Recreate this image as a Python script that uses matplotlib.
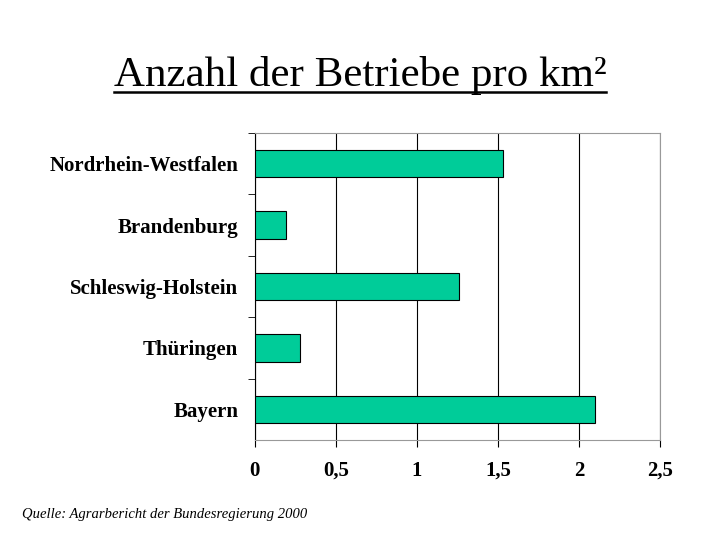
import matplotlib
matplotlib.use("Agg")
import matplotlib.pyplot as plt
from matplotlib.lines import Line2D

laender = ["Nordrhein-Westfalen", "Brandenburg", "Schleswig-Holstein", "Thüringen", "Bayern"]
betriebe_pro_km2 = [1.53, 0.19, 1.26, 0.28, 2.10]
x_ticks = [0, 0.5, 1, 1.5, 2, 2.5]
x_labels = ["0", "0,5", "1", "1,5", "2", "2,5"]

plt.rcParams["font.family"] = "Liberation Serif"

fig = plt.figure(figsize=(7.2, 5.4), dpi=100)
ax = fig.add_axes([0.354, 0.185, 0.563, 0.569])

pos = list(range(len(laender)))[::-1]
ax.barh(pos, betriebe_pro_km2, height=0.45, color="#00CC99", edgecolor="black", linewidth=0.8, zorder=3)

ax.set_xlim(0, 2.5)
ax.set_ylim(-0.5, len(laender) - 0.5)
ax.set_xticks(x_ticks)
ax.set_xticklabels(x_labels, fontsize=15, fontweight="bold")
ax.set_yticks(pos)
ax.set_yticklabels(laender, fontsize=15, fontweight="bold")
ax.tick_params(axis="y", length=0, pad=12)
ax.set_yticks([p + 0.5 for p in range(len(laender))], minor=True)
ax.tick_params(axis="y", which="minor", length=5)
ax.tick_params(axis="x", length=5, pad=10)
ax.xaxis.grid(True, color="black", linewidth=0.8, zorder=0)
for s in ["top", "right"]:
    ax.spines[s].set_color("#999999")
ax.spines["bottom"].set_color("#999999")

t = fig.text(0.5, 0.84, "Anzahl der Betriebe pro km²", ha="center", fontsize=31)
fig.canvas.draw()
bb = t.get_window_extent().transformed(fig.transFigure.inverted())
fig.add_artist(Line2D([bb.x0, bb.x1], [bb.y0 + 0.006, bb.y0 + 0.006], color="black", linewidth=1.8))

fig.text(0.03, 0.04, "Quelle: Agrarbericht der Bundesregierung 2000", fontsize=10.5, style="italic")

fig.savefig("out.png", dpi=100)
